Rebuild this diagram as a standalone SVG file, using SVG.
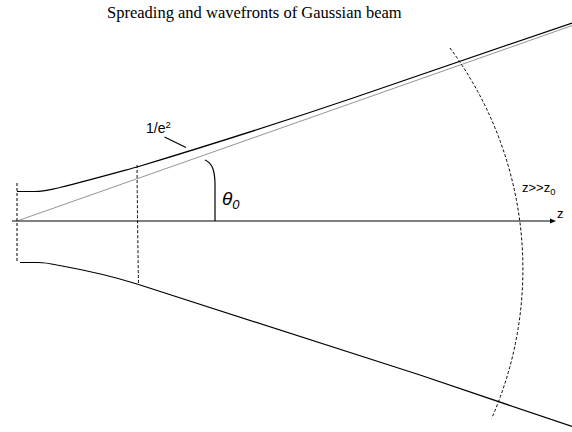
<svg xmlns="http://www.w3.org/2000/svg" width="572" height="432" viewBox="0 0 572 432">
<defs>
<style>
.beam{fill:none;stroke:#000;stroke-width:1.2}
.dash{fill:none;stroke:#000;stroke-width:1;stroke-dasharray:3 2}
.thin{fill:none;stroke:#666;stroke-width:0.7}
.lbl{font-family:"Liberation Sans",Arial,sans-serif;fill:#000}
</style>
</defs>
<rect width="572" height="432" fill="#fff"/>
<text x="107" y="18" font-family="Liberation Serif, Times New Roman, serif" font-size="16.5" fill="#000">Spreading and wavefronts of Gaussian beam</text>
<g id="axis">
<line x1="12" y1="221" x2="552" y2="221" stroke="#808080" stroke-width="2"/>
<path d="M550,218.5 L556,221 L550,223.5 Z" fill="#000"/>
<text class="lbl" x="557" y="218" font-size="13">z</text>
</g>
<g id="connectors">
<path id="thin-asymptote" class="thin" d="M17,221 L572,25.6"/>
<path id="beam-upper" class="beam" d="M17,191.5 L35,191.5 C45,191.5 50,189.5 60,187.5 C90,180 115,173 137,167 C200,148 300,116 353,98 L572,23"/>
<path id="beam-lower" class="beam" d="M20,262.5 L38,262.5 C45,262.5 50,263.5 57,265 C90,271 115,277 137,284 L420,375 L572,426.5"/>
<path id="waist" class="dash" d="M17,183 L17,263"/>
<path id="wavefront-near" class="dash" d="M137,165 Q137.5,225 138.5,284"/>
<path id="wavefront-far" class="dash" d="M450,48 A372,372 0 0 1 491.7,418.3"/>
<path id="angle-arc" class="beam" d="M205,160 C212,163 215,170 215,185 L215,221" stroke-width="1"/>
<path id="leader" class="beam" d="M164.5,137 L186,147.5" stroke-width="1"/>
</g>
<g id="label-e2">
<text class="lbl" x="146" y="132.5" font-size="14">1/e<tspan font-size="9.5" dy="-5">2</tspan></text>
</g>
<g id="label-theta">
<text class="lbl" x="222" y="205" font-size="19" font-style="italic">θ<tspan font-size="13" dy="4">0</tspan></text>
</g>
<g id="label-far">
<text class="lbl" x="522" y="192" font-size="13">z&gt;&gt;z<tspan font-size="9.5" dy="3">0</tspan></text>
</g>
</svg>
